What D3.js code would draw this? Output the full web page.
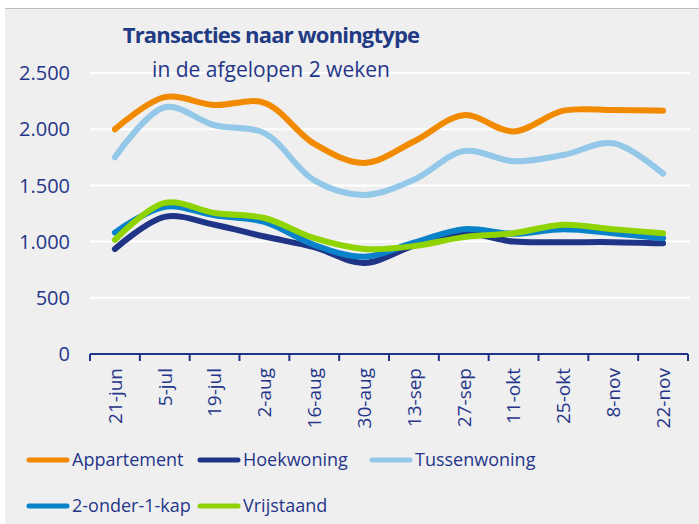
<!DOCTYPE html>
<html>
<head>
<meta charset="utf-8">
<script src="https://cdn.jsdelivr.net/npm/d3@7"></script>
<style>
  body { margin: 0; background: #ffffff; }
  svg { display: block; font-family: "Open Sans", sans-serif; }
</style>
</head>
<body>
<svg width="699" height="524"></svg>
<script>
// data
var categories = ['21-jun', '5-jul', '19-jul', '2-aug', '16-aug', '30-aug', '13-sep', '27-sep', '11-okt', '25-okt', '8-nov', '22-nov'];
var appartement = [2000, 2285, 2215, 2235, 1870, 1700, 1890, 2125, 1980, 2165, 2170, 2165];
var hoekwoning = [935, 1220, 1150, 1045, 950, 810, 965, 1075, 1000, 995, 995, 985];
var tussenwoning = [1750, 2195, 2035, 1965, 1545, 1415, 1550, 1805, 1715, 1770, 1875, 1605];
var tweeOnderEenKap = [1080, 1310, 1235, 1175, 970, 865, 990, 1110, 1070, 1110, 1075, 1030];
var vrijstaand = [1015, 1345, 1255, 1210, 1030, 935, 960, 1040, 1075, 1150, 1110, 1075];
var yTicks = [0, 500, 1000, 1500, 2000, 2500];

var series = [
  { name: 'Appartement', values: appartement, color: '#f28a00' },
  { name: 'Hoekwoning', values: hoekwoning, color: '#1f3486' },
  { name: 'Tussenwoning', values: tussenwoning, color: '#93c8e9' },
  { name: '2-onder-1-kap', values: tweeOnderEenKap, color: '#0a82c9' },
  { name: 'Vrijstaand', values: vrijstaand, color: '#8fd400' }
];
var textColor = '#25368a';

var svg = d3.select('svg');

// panel
svg.append('rect').attr('x', 5).attr('y', 8).attr('width', 694).attr('height', 516).attr('fill', '#efefef');
svg.append('line').attr('x1', 5).attr('x2', 699).attr('y1', 8.5).attr('y2', 8.5).attr('stroke', '#bdbdbd').attr('stroke-width', 1);

var x = d3.scaleBand().domain(categories).range([90, 688]);
var y = d3.scaleLinear().domain([0, 2500]).range([354, 73]);

// gridlines
svg.append('g').selectAll('line').data(yTicks.slice(1)).join('line')
  .attr('x1', 90).attr('x2', 690)
  .attr('y1', d => y(d)).attr('y2', d => y(d))
  .attr('stroke', '#ffffff').attr('stroke-width', 2);

// y labels
svg.append('g').selectAll('text').data(yTicks).join('text')
  .attr('x', 70).attr('y', d => y(d)).attr('dy', '0.36em')
  .attr('text-anchor', 'end').attr('fill', textColor)
  .attr('font-size', 20)
  .text(d => d3.format(',')(d).replace(',', '.'));

// title
svg.append('text').attr('x', 271).attr('y', 43).attr('text-anchor', 'middle')
  .attr('fill', '#223a84').attr('font-size', 22).attr('font-weight', 'bold')
  .attr('letter-spacing', -0.8)
  .text('Transacties naar woningtype');
svg.append('text').attr('x', 271).attr('y', 77).attr('text-anchor', 'middle')
  .attr('fill', textColor).attr('font-size', 21)
  .text('in de afgelopen 2 weken');

// x axis
svg.append('line').attr('x1', 90).attr('x2', 688).attr('y1', 354).attr('y2', 354)
  .attr('stroke', '#1f3486').attr('stroke-width', 2);
var bounds = categories.map(c => x(c)).concat([x(categories[categories.length - 1]) + x.bandwidth()]);
svg.append('g').selectAll('line').data(bounds).join('line')
  .attr('x1', d => d).attr('x2', d => d).attr('y1', 354).attr('y2', 361)
  .attr('stroke', '#1f3486').attr('stroke-width', 2);
svg.append('g').selectAll('text').data(categories).join('text')
  .attr('transform', d => 'translate(' + (x(d) + x.bandwidth() / 2) + ',368) rotate(-90)')
  .attr('text-anchor', 'end').attr('dy', '0.36em')
  .attr('fill', textColor).attr('font-size', 19)
  .text(d => d);

// lines
var line = d3.line()
  .x((d, i) => x(categories[i]) + x.bandwidth() / 2)
  .y(d => y(d))
  .curve(d3.curveCatmullRom.alpha(0.5));

svg.append('g').selectAll('path').data(series).join('path')
  .attr('d', d => line(d.values))
  .attr('fill', 'none').attr('stroke', d => d.color)
  .attr('stroke-width', 6).attr('stroke-linecap', 'round').attr('stroke-linejoin', 'round');

// legend
var legendPos = [[27, 460], [198, 460], [370, 460], [27, 506], [198, 506]];
var lg = svg.append('g').selectAll('g').data(series).join('g')
  .attr('transform', (d, i) => 'translate(' + legendPos[i][0] + ',' + legendPos[i][1] + ')');
lg.append('line').attr('x1', 2).attr('x2', 40).attr('y1', 0).attr('y2', 0)
  .attr('stroke', d => d.color).attr('stroke-width', 5).attr('stroke-linecap', 'round');
lg.append('text').attr('x', 45).attr('y', 0).attr('dy', '0.36em')
  .attr('fill', textColor).attr('font-size', 18)
  .text(d => d.name);
</script>
</body>
</html>
